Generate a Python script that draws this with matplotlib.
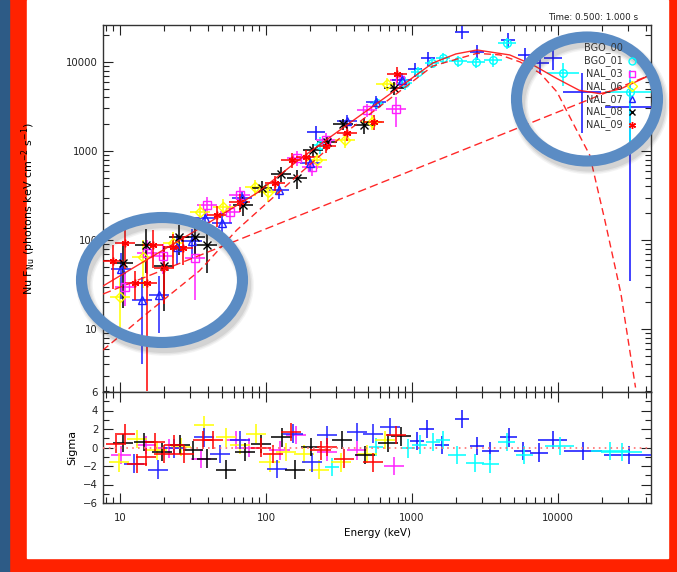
import numpy as np
import matplotlib
matplotlib.use("Agg")
import matplotlib.pyplot as plt
import matplotlib.ticker as mticker
from matplotlib.patches import Ellipse, Rectangle

plt.rcParams["font.family"] = ["DejaVu Sans"]
plt.rcParams["mathtext.fontset"] = "dejavusans"

# ── spectrum points: energy (keV), nuFnu, 1 sigma ───────────
n09_E = [8.96, 10.8, 12.7, 15.3, 16.8, 20.0, 23.0, 27.0, 46.0, 66.0, 115, 150, 188, 258, 360, 550, 789]
n09_F = [58, 92, 33, 33, 88, 49, 83, 82, 191, 267, 437, 793, 857, 1137, 1592, 2118, 7330]
n09_S = [30, 45, 12, 31, 40, 30, 35, 30, 50, 60, 80, 150, 160, 200, 300, 400, 1500]

n08_E = [10.5, 15.0, 20.0, 25.3, 32.6, 39.5, 69.6, 93.9, 127, 163, 210, 263, 337, 468, 752]
n08_F = [55, 88, 51, 108, 108, 88, 247, 384, 552, 498, 1026, 1262, 2010, 1960, 5107]
n08_S = [38, 45, 35, 40, 40, 45, 60, 80, 100, 120, 180, 220, 300, 400, 900]

n07_E = [10.2, 14.1, 18.5, 24.6, 31.0, 38.0, 50.0, 68.5, 123, 200, 360, 565, 855]
n07_F = [47, 21, 24, 83, 97, 177, 155, 297, 365, 732, 2170, 3550, 6280]
n07_S = [25, 17, 15, 30, 35, 45, 45, 60, 80, 150, 350, 600, 1200]

n06_E = [10.0, 14.3, 23.0, 35.4, 50.8, 84.0, 103, 223, 348, 530, 670]
n06_F = [23, 64, 92, 206, 235, 394, 346, 793, 1330, 2120, 5660]
n06_S = [14, 35, 30, 50, 55, 80, 80, 160, 250, 400, 1000]

n03_E = [10.8, 15.3, 19.7, 32.6, 39.5, 56.6, 66.0, 163, 206, 258, 490, 777, 826]
n03_F = [30, 71, 66, 63, 247, 206, 321, 834, 661, 1330, 2890, 2970, 6280]
n03_S = [12, 30, 25, 42, 60, 50, 70, 160, 140, 250, 500, 1100, 1100]

b00_E = [220, 1050, 1290, 2200, 2790, 4550, 5940, 7540, 9250, 14600, 31100]
b00_F = [1630, 8340, 11100, 21700, 12950, 17660, 11980, 9740, 11100, 4600, 3120]
b00_S = [300, 1500, 2000, 3500, 2500, 3500, 2500, 2500, 3000, 3000, 3085]
b00_dx = [0.06, 0.05, 0.05, 0.05, 0.05, 0.05, 0.05, 0.06, 0.06, 0.13, 0.17]

b01_E = [234, 575, 890, 1100, 1370, 1630, 2070, 2740, 3590, 4480, 10800, 31100]
b01_F = [1168, 3460, 5800, 7720, 9740, 11100, 10260, 10000, 10500, 16350, 7520, 4600]
b01_S = [250, 500, 900, 1000, 1300, 1500, 1500, 1500, 1800, 2200, 2200, 3570]
b01_dx = [0.05, 0.05, 0.05, 0.05, 0.05, 0.05, 0.06, 0.06, 0.06, 0.06, 0.11, 0.17]

# ── model curves ────────────────────────────────────────────
tot_E = [7.65, 16, 35.3, 86.7, 171, 375, 827, 1390, 2000, 2790, 4680, 6750, 9850, 14000, 19400, 27000, 43400]
tot_F = [30.4, 62.8, 136, 337, 813, 2065, 5240, 9740, 12300, 13630, 11980, 9250, 6500, 4800, 4400, 5000, 7180]
comp_E = [7.65, 16, 35, 63, 171, 375, 827, 1390, 2790, 4010, 5500, 7540, 9850, 13000, 16500, 20900, 27000, 34000]
comp_F = [5.8, 15.9, 45, 129, 560, 1750, 4700, 9000, 12500, 12000, 10000, 7500, 4600, 1900, 900, 170, 25, 2.2]
pl_E = [7.65, 43400]
pl_F = [24.7, 7180]

# ── residuals (sigma) ───────────────────────────────────────
r09_E = [9.39, 10.8, 13.1, 15.1, 17.4, 20.0, 23.4, 27.4, 37.0, 43.3, 92.3, 112, 148, 237, 261, 342, 541, 777]
r09_S = [0.4, 1.5, -1.75, -1.0, 0.6, -0.7, 0.3, -0.7, 0.8, 0.8, 0.0, -0.7, 1.7, -0.3, 0.05, -1.2, -1.6, 1.35]
r08_E = [10.5, 14.6, 19.4, 25.7, 31.6, 39.5, 53.2, 71.8, 92.3, 128, 158, 203, 331, 476, 683, 842]
r08_S = [0.5, 0.6, -0.5, 0.3, -0.3, -1.2, -2.4, -0.5, 0.4, 1.1, -2.4, 0.05, 0.8, -0.8, 0.5, 1.2]
r07_E = [12.5, 18.2, 23.4, 37.6, 48.4, 66.3, 119, 153, 206, 261, 421, 541, 705]
r07_S = [-1.75, -2.4, -0.1, 1.1, -0.7, 0.8, -2.3, 1.5, -1.6, 1.35, 1.7, 1.5, 2.2]
r06_E = [9.84, 13.1, 17.9, 26.2, 37.6, 53.2, 66.3, 85.3, 106, 137, 182, 230, 327, 491, 651]
r06_S = [-1.6, 0.9, -0.3, 0.05, 2.4, 1.1, 0.25, 1.5, -1.6, -0.5, -0.7, -2.4, -1.6, -0.7, 0.8]
r03_E = [10.2, 15.1, 21.5, 35.8, 62.2, 76.5, 124, 161, 261, 421, 752]
r03_S = [-0.8, 0.25, -0.1, -1.2, 0.8, 0.0, -0.3, 1.35, -0.5, -0.3, -2.0]
rb0_E = [1080, 1260, 1610, 2200, 2790, 3450, 4590, 5720, 7390, 9200, 14900, 30600]
rb0_S = [0.7, 2.0, 0.25, 3.1, 0.15, -0.4, 1.1, -0.4, -0.55, 0.8, -0.4, -0.8]
rb0_dx = [0.05, 0.05, 0.05, 0.05, 0.05, 0.06, 0.06, 0.06, 0.06, 0.10, 0.13, 0.17]
rb1_E = [283, 567, 938, 1130, 1390, 1630, 2030, 2710, 3450, 4450, 5900, 10300, 22700, 27400]
rb1_S = [-2.1, 0.05, -0.1, 0.3, 0.6, 0.8, -0.8, -1.65, -1.75, 0.6, -0.8, 0.15, -0.4, -0.5]
rb1_dx = [0.05, 0.05, 0.05, 0.05, 0.05, 0.05, 0.06, 0.06, 0.06, 0.06, 0.06, 0.10, 0.13, 0.14]

NAI_DX = 0.07   # half bin width of the NaI points, in dex

DETS = ["BGO_00", "BGO_01", "NAL_03", "NAL_06", "NAL_07", "NAL_08", "NAL_09"]
COL = {"BGO_00": "#1010ff", "BGO_01": "#00ffff", "NAL_03": "#ff20ff", "NAL_06": "#ffff00",
       "NAL_07": "#2020ff", "NAL_08": "#000000", "NAL_09": "#ff0000"}
MRK = {"BGO_00": None, "BGO_01": "o", "NAL_03": "s", "NAL_06": "D",
       "NAL_07": "^", "NAL_08": "x", "NAL_09": (6, 2, 0)}

W, H = 677, 572
fig = plt.figure(figsize=(W / 100, H / 100), dpi=100)

# background: dark strip, red frame, white page
bg = fig.add_axes([0, 0, 1, 1], zorder=0)
bg.set_xlim(0, W); bg.set_ylim(H, 0); bg.axis("off")
bg.add_patch(Rectangle((0, 0), W, H, color="#ff2200"))
bg.add_patch(Rectangle((0, 0), 9, H, color="#2d5b86"))
bg.add_patch(Rectangle((27, 0), 641, 558, color="white"))


def fx(x): return x / W
def fy(y): return 1 - y / H


ax = fig.add_axes([fx(103), fy(392), fx(651) - fx(103), fy(25) - fy(392)], zorder=2)
ax2 = fig.add_axes([fx(103), fy(503), fx(651) - fx(103), fy(392) - fy(503)], zorder=2)


def xerr(E, d):
    E = np.asarray(E, float); d = np.asarray(d, float)
    return [E * (1 - 10 ** -d), E * (10 ** d - 1)]


def draw_spec(E, F, S, d, det):
    E, F, S = (np.asarray(v, float) for v in (E, F, S))
    lo = np.minimum(S, F - 0.5)
    c = COL[det]
    ax.errorbar(E, F, yerr=[lo, S], xerr=xerr(E, d), fmt="none", ecolor=c,
                elinewidth=1.3, capsize=0, alpha=0.85, zorder=3)
    if MRK[det] is not None:
        ax.plot(E, F, ls="none", marker=MRK[det], mfc="none", mec=c, ms=5.5, mew=1.0, zorder=4)


def draw_res(E, S, d, det):
    E = np.asarray(E, float)
    ax2.errorbar(E, S, yerr=1, xerr=xerr(E, d), fmt="none", ecolor=COL[det],
                 elinewidth=1.3, capsize=0, alpha=0.85, zorder=3)


draw_spec(b00_E, b00_F, b00_S, b00_dx, "BGO_00")
draw_spec(b01_E, b01_F, b01_S, b01_dx, "BGO_01")
draw_spec(n03_E, n03_F, n03_S, NAI_DX, "NAL_03")
draw_spec(n06_E, n06_F, n06_S, NAI_DX, "NAL_06")
draw_spec(n07_E, n07_F, n07_S, NAI_DX, "NAL_07")
draw_spec(n08_E, n08_F, n08_S, NAI_DX, "NAL_08")
draw_spec(n09_E, n09_F, n09_S, NAI_DX, "NAL_09")

ax.plot(tot_E, tot_F, color="#ff1010", lw=1.0, zorder=5, alpha=0.9)
ax.plot(comp_E, comp_F, color="#ff1010", lw=1.0, ls=(0, (5, 3)), zorder=5, alpha=0.9)
ax.plot(pl_E, pl_F, color="#ff1010", lw=1.0, ls=(0, (6, 3)), zorder=5, alpha=0.9)

draw_res(rb0_E, rb0_S, rb0_dx, "BGO_00")
draw_res(rb1_E, rb1_S, rb1_dx, "BGO_01")
draw_res(r03_E, r03_S, NAI_DX, "NAL_03")
draw_res(r06_E, r06_S, NAI_DX, "NAL_06")
draw_res(r07_E, r07_S, NAI_DX, "NAL_07")
draw_res(r08_E, r08_S, NAI_DX, "NAL_08")
draw_res(r09_E, r09_S, NAI_DX, "NAL_09")
ax2.axhline(0, color="#ff7070", ls=(0, (1, 2.5)), lw=1.2, zorder=4)

XLIM = (7.65, 43400)
for a in (ax, ax2):
    a.set_xscale("log"); a.set_xlim(*XLIM)
    a.tick_params(which="both", direction="in", top=True, right=True, labelsize=7.3,
                  colors="#222222", width=0.8)
    a.tick_params(which="major", length=7)
    a.tick_params(which="minor", length=4)
    for sp in a.spines.values():
        sp.set_linewidth(1.0); sp.set_color("#333333")

ax.set_yscale("log"); ax.set_ylim(1.96, 26000)
ax.yaxis.set_major_formatter(mticker.FuncFormatter(lambda v, _: f"{v:g}"))
ax.yaxis.set_minor_formatter(mticker.NullFormatter())
ax.tick_params(axis="x", which="both", labelbottom=False)
ax.set_ylabel(r"Nu F$_{\rm Nu}$ (photons keV cm$^{-2}$ s$^{-1}$)", fontsize=8, labelpad=20)

ax2.set_ylim(-6, 6)
ax2.set_yticks([-6, -4, -2, 0, 2, 4, 6])
ax2.yaxis.set_minor_locator(mticker.MultipleLocator(1))
ax2.xaxis.set_major_formatter(mticker.FuncFormatter(lambda v, _: f"{v:g}"))
ax2.xaxis.set_minor_formatter(mticker.NullFormatter())
ax2.tick_params(axis="x", pad=7)
ax2.set_ylabel("Sigma", fontsize=8, labelpad=4)
ax2.set_xlabel("Energy (keV)", fontsize=7.5, labelpad=4)

fig.text(fx(638), fy(17), "Time: 0.500: 1.000 s", fontsize=6.3, ha="right", va="center", color="#222222")

# overlay: legend and highlight rings
ov = fig.add_axes([0, 0, 1, 1], zorder=6)
ov.set_xlim(0, W); ov.set_ylim(H, 0); ov.axis("off"); ov.patch.set_alpha(0)
for i, det in enumerate(DETS):
    yy = 48 + i * 12.8
    ov.text(623, yy, det, fontsize=7, ha="right", va="center", color="#333333")
    if MRK[det] is not None:
        ov.plot(632, yy, marker=MRK[det], mfc="none", mec=COL[det], ms=5, mew=1.0)

for cx, cy, w, h in [(162, 280, 161, 125), (587, 99, 141, 124)]:
    for k, a in enumerate((0.06, 0.08, 0.10)):
        ov.add_patch(Ellipse((cx + 3, cy + 5), w, h, fill=False, ec="#404040",
                             lw=12 - 2 * k, alpha=a))
    ov.add_patch(Ellipse((cx, cy), w, h, fill=False, ec="#5b8cc4", lw=8))

fig.savefig("out.png", dpi=100)
